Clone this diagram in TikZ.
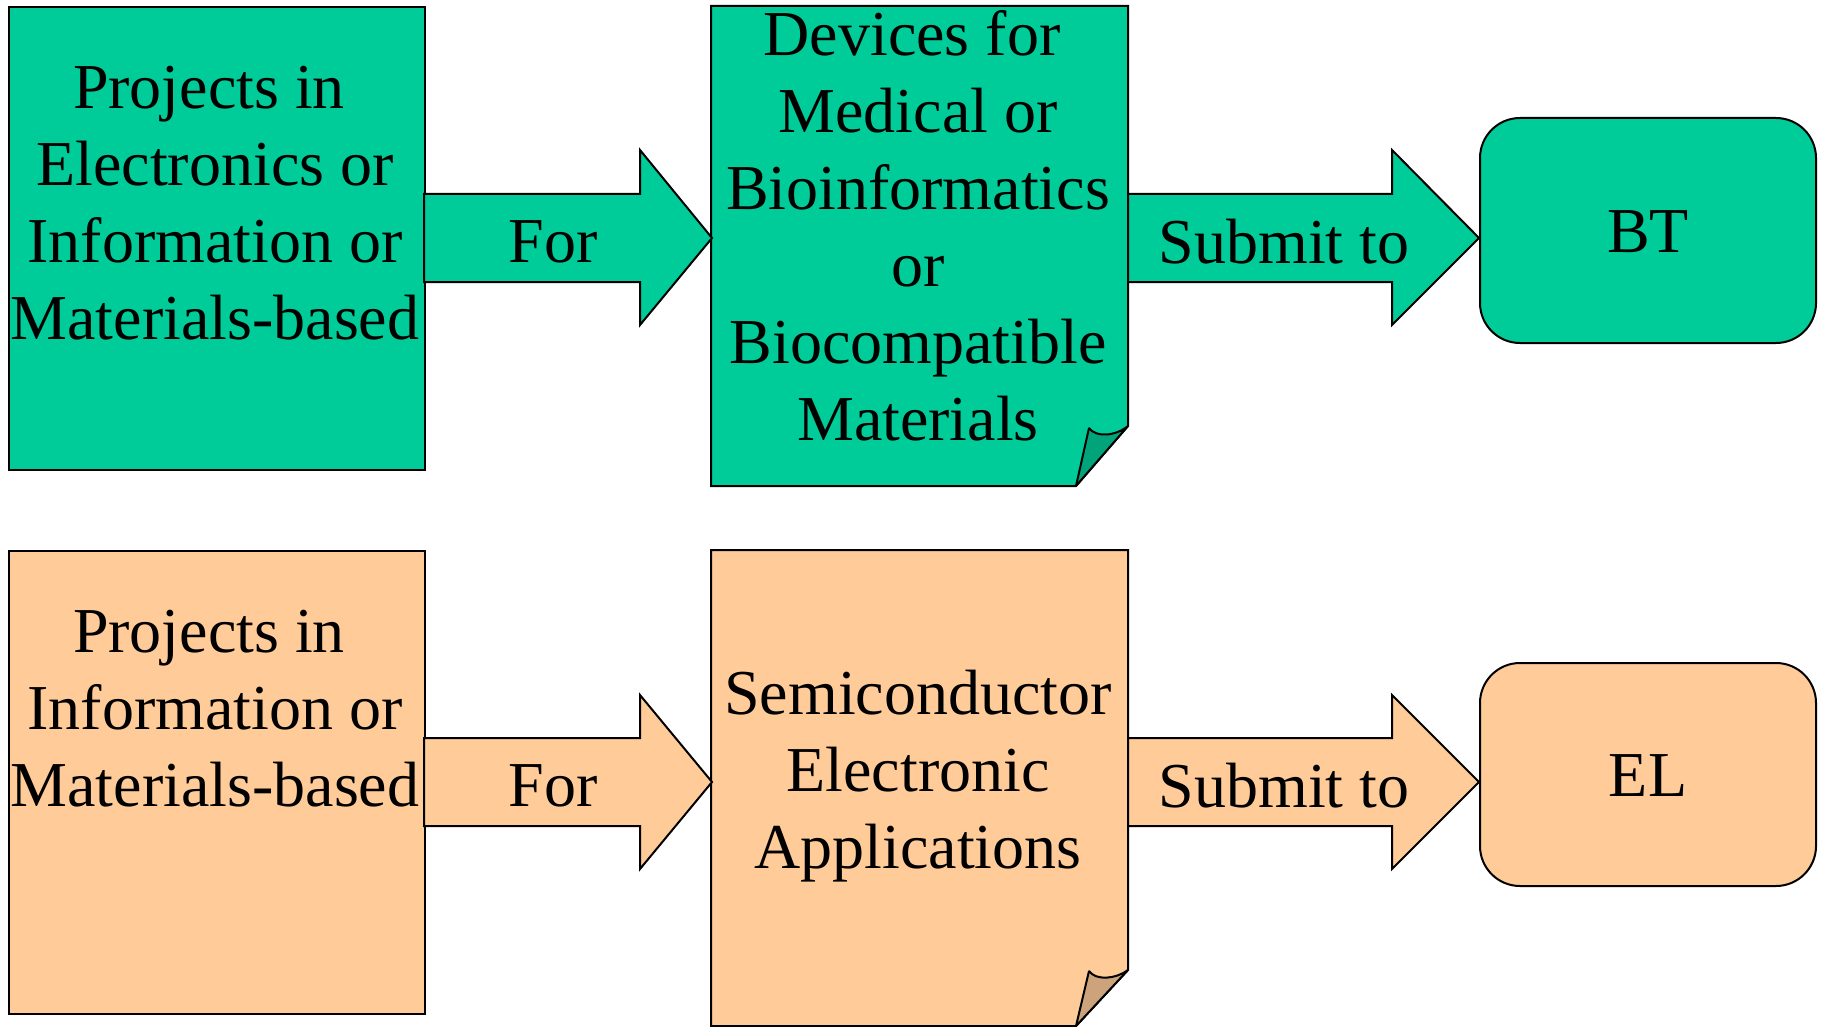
\documentclass[tikz,border=0pt]{standalone}
\usepackage{fontspec}
\setmainfont{Liberation Serif}
\definecolor{tealc}{HTML}{00CC99}
\definecolor{tealf}{HTML}{00A37A}
\definecolor{orc}{HTML}{FFCC99}
\definecolor{orf}{HTML}{CCA37A}
\newcommand{\tsp}{\hspace*{12pt}}
\begin{document}
\begin{tikzpicture}[x=1pt,y=-1pt,
  shp/.style={draw=black,line width=2pt,line join=miter},
  fold/.style={draw=black,line width=2pt,line join=bevel},
  txt/.style={font=\fontsize{64}{77}\selectfont,align=center,inner sep=0pt,text=black},
  boxnode/.style={shp,rectangle,anchor=north west,inner sep=0pt}]
\useasboundingbox (0,0) rectangle (1822,1027);
% ---------- top row ----------
\node[boxnode,fill=tealc,minimum width=416pt,minimum height=463pt] (a1) at (8,6) {};
\node[txt] (ta1) at (215,203) {Projects in\tsp\\Electronics or\\Information or\\Materials-based};
\filldraw[shp,fill=tealc] (711,6) -- (1128,6) -- (1128,426) -- (1076,486) -- (711,486) -- cycle;
\filldraw[fold,fill=tealf] (1076,486) -- (1089,428) .. controls (1096,438) and (1116,436) .. (1128,426) -- cycle;
\node[txt] (tb1) at (918,226) {Devices for\tsp\\Medical or\\Bioinformatics\\or\tsp\\Biocompatible\\Materials};
\node[shp,rectangle,rounded corners=40pt,fill=tealc,minimum width=336pt,minimum height=225pt,anchor=north west] (c1) at (1479,117) {};
\node[txt] (tc1) at (1648,232) {BT};
\filldraw[shp,fill=tealc] (424,194) -- (640,194) -- (640,150) -- (712,238) -- (640,325) -- (640,282) -- (424,282) -- cycle;
\node[txt] (f1) at (553,242) {For};
\filldraw[shp,fill=tealc] (1128,194) -- (1392,194) -- (1392,150) -- (1479,238) -- (1392,325) -- (1392,282) -- (1128,282) -- cycle;
\node[txt] (s1) at (1284,242) {Submit to};
% ---------- bottom row ----------
\node[boxnode,fill=orc,minimum width=416pt,minimum height=463pt] (a2) at (8,550) {};
\node[txt] (ta2) at (215,709) {Projects in\tsp\\Information or\\Materials-based};
\filldraw[shp,fill=orc] (711,550) -- (1128,550) -- (1128,970) -- (1076,1026) -- (711,1026) -- cycle;
\filldraw[fold,fill=orf] (1076,1026) -- (1089,971) .. controls (1096,981) and (1116,979) .. (1128,970) -- cycle;
\node[txt] (tb2) at (918,776) {Semiconductor\\Electronic\tsp\\Applications};
\node[shp,rectangle,rounded corners=40pt,fill=orc,minimum width=336pt,minimum height=223pt,anchor=north west] (c2) at (1479,662) {};
\node[txt] (tc2) at (1648,776) {EL};
\filldraw[shp,fill=orc] (424,738) -- (640,738) -- (640,695) -- (712,782) -- (640,869) -- (640,826) -- (424,826) -- cycle;
\node[txt] (f2) at (553,786) {For};
\filldraw[shp,fill=orc] (1128,738) -- (1392,738) -- (1392,695) -- (1479,782) -- (1392,869) -- (1392,826) -- (1128,826) -- cycle;
\node[txt] (s2) at (1284,786) {Submit to};
\end{tikzpicture}
\end{document}
